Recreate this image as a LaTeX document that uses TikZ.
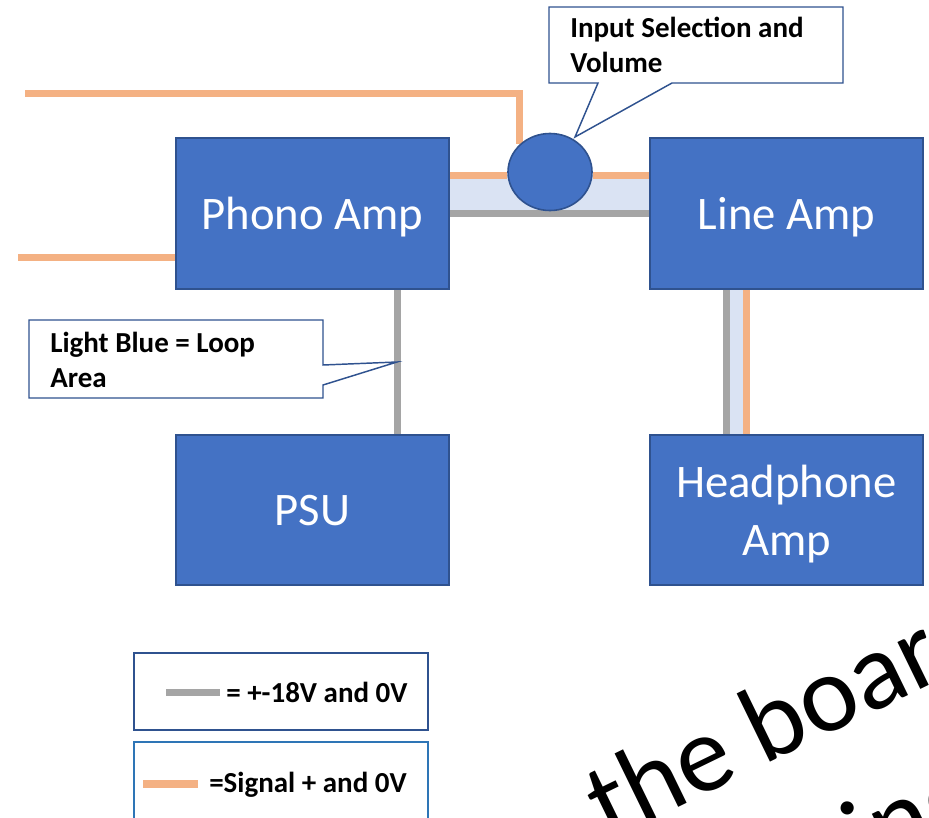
\documentclass[tikz,border=0pt]{standalone}
\usepackage{fontspec}
\setmainfont{Carlito}
\usetikzlibrary{shapes.geometric}
\pgfdeclarelayer{bg}
\pgfsetlayers{bg,main}
\definecolor{boxblue}{HTML}{4472C4}
\definecolor{edgeblue}{HTML}{2F528F}
\definecolor{sigorange}{HTML}{F4B183}
\definecolor{pwrgray}{HTML}{A5A5A5}
\definecolor{loopblue}{HTML}{DAE3F3}
\definecolor{legblue}{HTML}{2E75B6}

\begin{document}
\begin{tikzpicture}[x=0.75pt,y=0.75pt,yscale=-1,xscale=1,
  amp/.style={draw=edgeblue, fill=boxblue, line width=1.2pt, text=white, inner sep=0pt, outer sep=0pt,
    minimum width=204.75pt, minimum height=113.25pt, text depth=0pt, align=center, font=\fontsize{35}{43.5}\selectfont},
  sig/.style={draw=sigorange, line width=5.25pt},
  pwr/.style={draw=pwrgray, line width=5.25pt},
  callout/.style={draw=edgeblue, fill=white, line width=1.1pt},
  note/.style={anchor=north west, inner sep=0pt, align=left, font=\fontsize{21.75}{26.25}\selectfont\bfseries}]
\useasboundingbox (0,0) rectangle (929,818);
\clip (0,0) rectangle (929,818);

% Amplifier blocks
\node (phono) [amp] at (312.5,213.5) {Phono Amp};
\node (line) [amp] at (786.5,213.5) {Line Amp};
\node (psu) [amp, minimum height=112.5pt] at (312.5,510) {PSU};
\node (hp) [amp, minimum height=112.5pt] at (786.5,510) {Headphone\\Amp};
% Selector knob
\node (sel) [ellipse, draw=edgeblue, fill=boxblue, line width=1.2pt, inner sep=0pt,
  minimum width=63pt, minimum height=57.75pt] at (550,172) {};

\coordinate (inA) at (25,93);
\coordinate (inB) at (18,257);

\begin{pgfonlayer}{bg}
% loop areas
\fill[loopblue] (phono.east |- 0,175) rectangle (line.west |- 0,213);
\fill[loopblue] (line.south -| 730,0) rectangle (hp.north -| 743,0);
% signal lines
\draw[sig] (inA) -| (sel.north west);
\draw[sig] (inB) -- (inB -| phono.west);
\draw[sig] (phono.east |- 0,175) -- (sel.west |- 0,175);
\draw[sig] (sel.east |- 0,175) -- (line.west |- 0,175);
\draw[sig] (line.south -| 746,0) -- (hp.north -| 746,0);
% power lines
\draw[pwr] (phono.east |- 0,213) -- (line.west |- 0,213);
\draw[pwr] (phono.south -| 397,0) -- (psu.north -| 397,0);
\draw[pwr] (line.south -| 726,0) -- (hp.north -| 726,0);
\end{pgfonlayer}

% Callouts
\draw[callout] (549,7) -- (843,7) -- (843,83) -- (672,83) -- (575,137) -- (598,83) -- (549,83) -- cycle;
\node (selnote) [note] at (570,17) {Input Selection and\\Volume};
\draw[callout] (29,320) -- (323,320) -- (323,365) -- (397,362) -- (323,385) -- (323,398) -- (29,398) -- cycle;
\node (loopnote) [note] at (50,332) {Light Blue = Loop\\Area};

% Legend
\node (legA) [draw=edgeblue, line width=1.1pt, minimum width=220.5pt, minimum height=57.75pt, inner sep=0pt] at (281,691.5) {};
\node (legB) [draw=legblue, line width=1.1pt, minimum width=220.5pt, minimum height=66pt, inner sep=0pt] at (281,786) {};
\draw[pwr] (166,692) -- (220,692);
\draw[sig, line width=6pt] (143,784) -- (198,784);
\node (legAtxt) [anchor=base west, inner sep=0pt, font=\fontsize{21.75}{26.25}\selectfont\bfseries] at (226,702) {= +-18V and 0V};
\node (legBtxt) [anchor=base west, inner sep=0pt, font=\fontsize{21.75}{26.25}\selectfont\bfseries] at (209,792) {=Signal + and 0V};

% Stray text at the corner
\node (wm1) [rotate=26, anchor=base west, inner sep=0pt, font=\fontsize{82}{98}\selectfont] at (608,842) {the boar};
\node (wm2) [rotate=26, anchor=base west, inner sep=0pt, font=\fontsize{82}{98}\selectfont] at (866,876) {ine};

\end{tikzpicture}
\end{document}
